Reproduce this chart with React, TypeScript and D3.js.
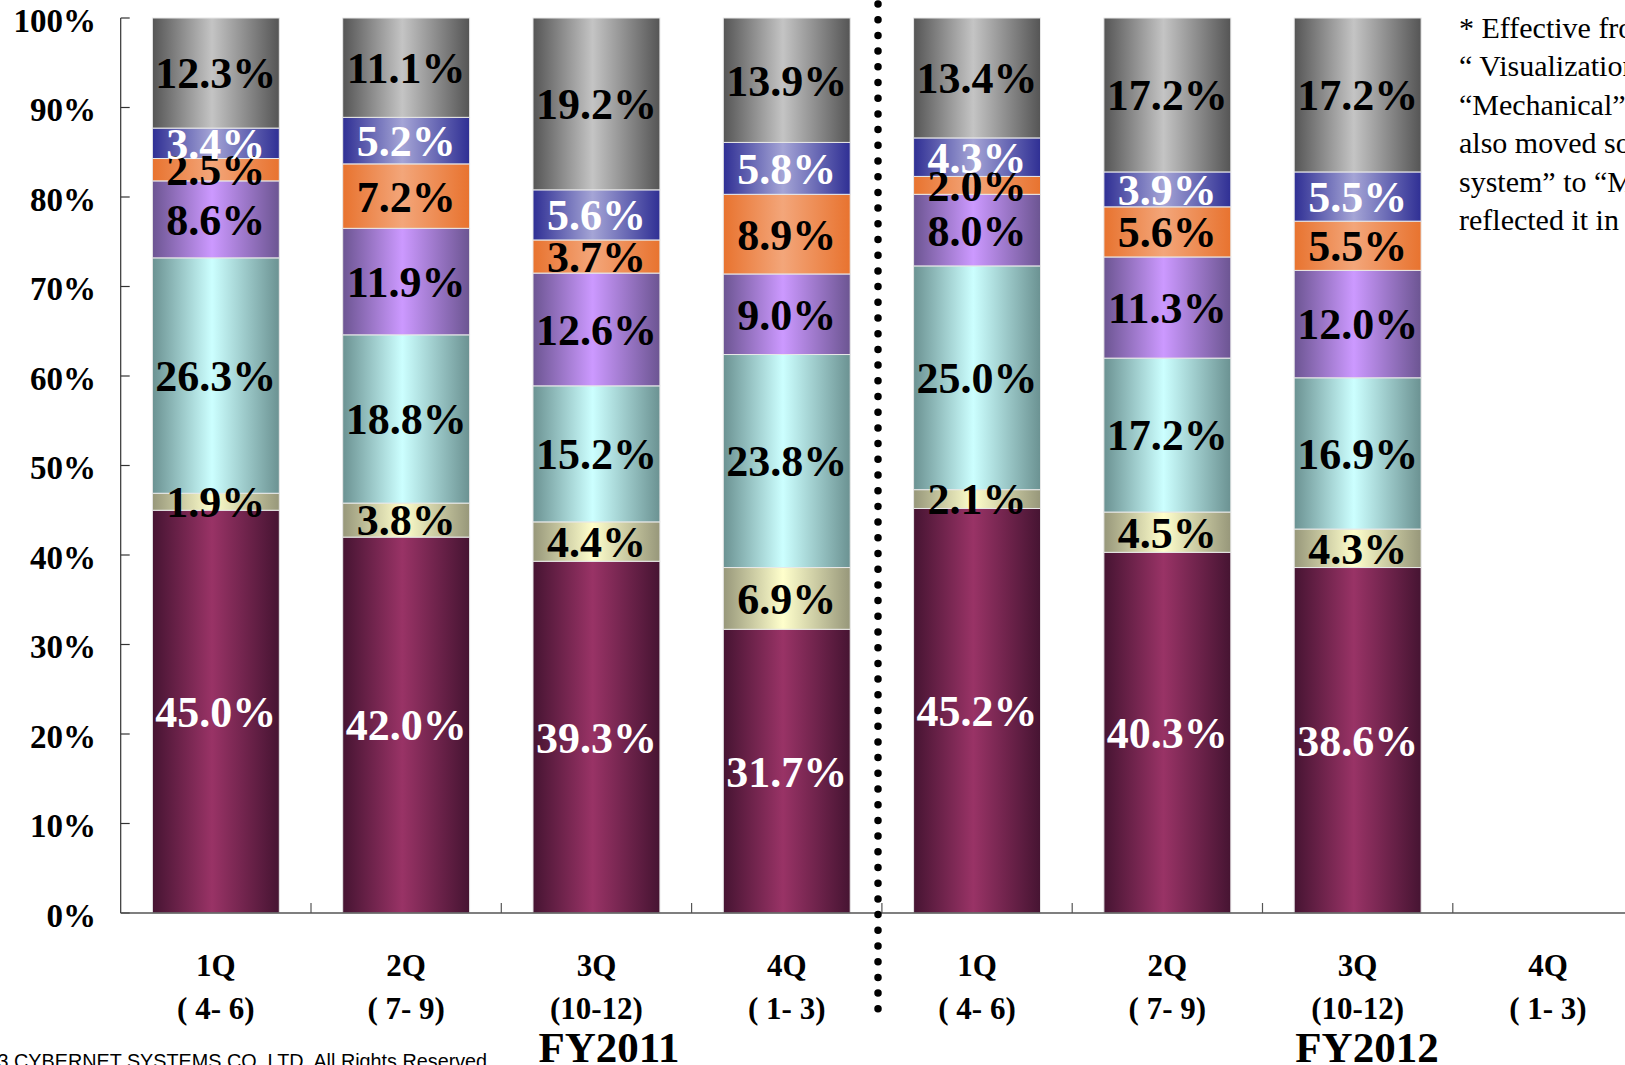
import React from 'react';
import * as d3 from 'd3';

// quarters (8th slot is still empty)
const quarters = ['1Q', '2Q', '3Q', '4Q', '1Q', '2Q', '3Q', '4Q'];
const months = ['( 4- 6)', '( 7- 9)', '(10-12)', '( 1- 3)', '( 4- 6)', '( 7- 9)', '(10-12)', '( 1- 3)'];
const slots = quarters.map((q, i) => `${q}-${i}`);

// stacked shares, bottom to top
const maroon = [45.0, 42.0, 39.3, 31.7, 45.2, 40.3, 38.6];
const yellow = [1.9, 3.8, 4.4, 6.9, 2.1, 4.5, 4.3];
const cyan = [26.3, 18.8, 15.2, 23.8, 25.0, 17.2, 16.9];
const lavender = [8.6, 11.9, 12.6, 9.0, 8.0, 11.3, 12.0];
const orange = [2.5, 7.2, 3.7, 8.9, 2.0, 5.6, 5.5];
const blue = [3.4, 5.2, 5.6, 5.8, 4.3, 3.9, 5.5];
const gray = [12.3, 11.1, 19.2, 13.9, 13.4, 17.2, 17.2];

const yTicks = [0, 10, 20, 30, 40, 50, 60, 70, 80, 90, 100];

const note = [
  '* Effective from FY2012, we changed',
  '\u201c Visualization\u201d segment into',
  '\u201cMechanical\u201d segment and',
  'also moved some of \u201cOther',
  'system\u201d to \u201cMechanical\u201d, and',
  'reflected it in FY2011 figures.',
];

const series = [
  { key: 'maroon', values: maroon, edge: '#461432', mid: '#993366', text: '#fff' },
  { key: 'yellow', values: yellow, edge: '#97977a', mid: '#ffffcc', text: '#000' },
  { key: 'cyan', values: cyan, edge: '#6b9292', mid: '#ccffff', text: '#000' },
  { key: 'lavender', values: lavender, edge: '#6c5592', mid: '#cc99ff', text: '#000' },
  { key: 'orange', values: orange, edge: '#e8732f', mid: '#f3a67a', text: '#000' },
  { key: 'blue', values: blue, edge: '#2f2f94', mid: '#a5a5d6', text: '#fff' },
  { key: 'gray', values: gray, edge: '#555555', mid: '#c4c4c4', text: '#000' },
];

const W = 1625;
const H = 1065;
const left = 120.7;
const step = 190.3;
const serif = '"Liberation Serif", "Times New Roman", serif';

export default function App() {
  const x = d3.scaleBand()
    .domain(slots)
    .range([left, left + step * slots.length])
    .paddingInner(0.333)
    .paddingOuter(0.1665);
  const y = d3.scaleLinear().domain([0, 100]).range([913, 18]);

  const rows = maroon.map((_, i) => {
    const r: any = { slot: slots[i] };
    series.forEach(s => { r[s.key] = s.values[i]; });
    return r;
  });
  const stacked = d3.stack().keys(series.map(s => s.key))(rows);

  return (
    <svg width={W} height={H} style={{ position: 'absolute', left: 0, top: 0 }} fontFamily={serif}>
      <defs>
        {series.map(s => (
          <linearGradient key={s.key} id={`g-${s.key}`} x1="0" x2="1" y1="0" y2="0">
            <stop offset="0" stopColor={s.edge} />
            <stop offset="0.47" stopColor={s.mid} />
            <stop offset="1" stopColor={s.edge} />
          </linearGradient>
        ))}
      </defs>

      {/* bars */}
      {stacked.map((layer, li) => (
        <g key={series[li].key}>
          {layer.map((d: any, i) => (
            <rect
              key={i}
              x={x(slots[i])}
              y={y(d[1])}
              width={x.bandwidth()}
              height={y(d[0]) - y(d[1])}
              fill={`url(#g-${series[li].key})`}
              stroke="#e8e8e8"
              strokeWidth={1}
            />
          ))}
        </g>
      ))}

      {/* value labels */}
      {stacked.map((layer, li) => (
        <g key={`l-${li}`} fontSize={44} fontWeight="bold" textAnchor="middle" fill={series[li].text}>
          {layer.map((d: any, i) => (
            <text key={i} x={x(slots[i])! + x.bandwidth() / 2} y={y((d[0] + d[1]) / 2)} dy="0.35em">
              {series[li].values[i].toFixed(1)}%
            </text>
          ))}
        </g>
      ))}

      {/* y axis */}
      <line x1={left} x2={left} y1={y(100)} y2={y(0)} stroke="#333" strokeWidth={1.2} />
      {yTicks.map(t => (
        <g key={t}>
          <line x1={left} x2={left + 9} y1={y(t)} y2={y(t)} stroke="#333" strokeWidth={1.2} />
          <text x={96} y={y(t) + 2} dy="0.35em" textAnchor="end" fontSize={33} fontWeight="bold">{t}%</text>
        </g>
      ))}

      {/* x axis */}
      <line x1={left} x2={W} y1={y(0)} y2={y(0)} stroke="#555" strokeWidth={1.5} />
      {slots.map((s, i) => (
        <line key={s} x1={left + step * (i + 1)} x2={left + step * (i + 1)} y1={y(0)} y2={y(0) - 10} stroke="#555" strokeWidth={1.2} />
      ))}
      {slots.map((s, i) => (
        <g key={`t-${s}`} textAnchor="middle" fontSize={31} fontWeight="bold">
          <text x={x(s)! + x.bandwidth() / 2} y={976}>{quarters[i]}</text>
          <text x={x(s)! + x.bandwidth() / 2} y={1019} style={{ whiteSpace: 'pre' }}>{months[i]}</text>
        </g>
      ))}

      {/* fiscal year divider */}
      <line x1={878} x2={878} y1={4} y2={1012} stroke="#000" strokeWidth={7.5} strokeLinecap="round" strokeDasharray="0 15.7" />

      <text x={609} y={1062} textAnchor="middle" fontSize={43} fontWeight="bold">FY2011</text>
      <text x={1367} y={1062} textAnchor="middle" fontSize={43} fontWeight="bold">FY2012</text>

      {/* note */}
      <g fontSize={30}>
        {note.map((line, i) => (
          <text key={i} x={1459} y={38 + i * 38.4} style={{ whiteSpace: 'pre' }}>{line}</text>
        ))}
      </g>

      <text x={-50} y={1068} fontFamily='"Liberation Sans", Arial, sans-serif' fontSize={19.8}>
        ©2013 CYBERNET SYSTEMS CO.,LTD. All Rights Reserved
      </text>
    </svg>
  );
}
